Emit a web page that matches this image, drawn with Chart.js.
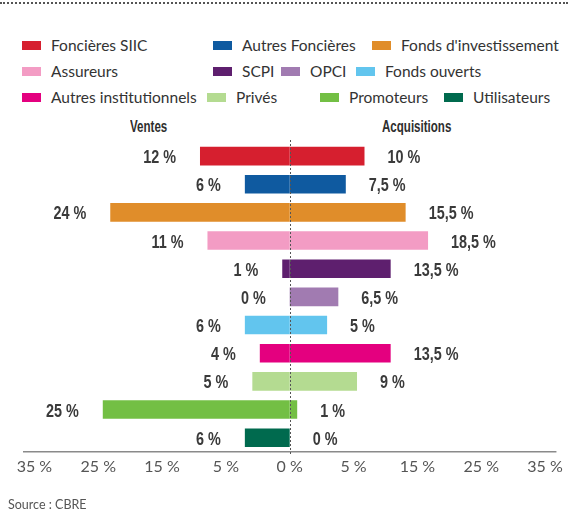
<!DOCTYPE html>
<html>
<head>
<meta charset="utf-8">
<script src="https://cdn.jsdelivr.net/npm/chart.js@4/dist/chart.umd.min.js"></script>
<style>
  body { margin: 0; background: #fff; }
  #wrap { position: relative; width: 568px; height: 514px; overflow: hidden; font-family: Lato, "Noto Sans", sans-serif; color: #333; }
  #chart { position: absolute; left: 0; top: 0; }
  .dots { position: absolute; left: 0; top: 2px; width: 568px; border-top: 2px dotted #555; }
  .leg { position: absolute; font-size: 15.5px; white-space: nowrap; line-height: 18px; }
  .leg i { display: inline-block; width: 19px; height: 9px; margin-right: 10px; vertical-align: 1px; }
  .head { position: absolute; top: 117px; font-family: "Liberation Sans", Arial, sans-serif; font-weight: bold; font-size: 16.5px; color: #2e2e2e; transform: scaleX(0.7); transform-origin: left center; }
  .src { position: absolute; left: 8px; top: 497px; font-size: 12.5px; color: #555; }
</style>
</head>
<body>
<div id="wrap">
  <div class="dots"></div>
  <div id="legend"></div>
  <div class="head" style="left:130px">Ventes</div>
  <div class="head" style="left:382px">Acquisitions</div>
  <canvas id="chart" width="568" height="514"></canvas>
  <div class="src">Source : CBRE</div>
</div>
<script>
// data
var categories = ['Foncières SIIC', 'Autres Foncières', "Fonds d'investissement", 'Assureurs', 'SCPI', 'OPCI',
                  'Fonds ouverts', 'Autres institutionnels', 'Privés', 'Promoteurs', 'Utilisateurs'];
var ventes = [12, 6, 24, 11, 1, 0, 6, 4, 5, 25, 6];
var acquisitions = [10, 7.5, 15.5, 18.5, 13.5, 6.5, 5, 13.5, 9, 1, 0];
var tickLabels = ['35 %', '25 %', '15 %', '5 %', '0 %', '5 %', '15 %', '25 %', '35 %'];

var colors = ['#d61f2f', '#0f5aa0', '#e08d2a', '#f39cc4', '#5e1f6e', '#a17bb1',
              '#62c5ee', '#e4007f', '#b4db91', '#73bf44', '#006a4e'];

// legend layout (rows of category index + left edge)
var legendRows = [
	{ top: 36, items: [[0, 22], [1, 213], [2, 372]] },
	{ top: 62, items: [[3, 22], [4, 213], [5, 281], [6, 356]] },
	{ top: 88, items: [[7, 22], [8, 207], [9, 320], [10, 444]] }
];

var legendEl = document.getElementById('legend');
legendRows.forEach(function(row) {
	row.items.forEach(function(it) {
		var d = document.createElement('div');
		d.className = 'leg';
		d.style.top = row.top + 'px';
		d.style.left = it[1] + 'px';
		d.innerHTML = '<i style="background:' + colors[it[0]] + '"></i>';
		d.appendChild(document.createTextNode(categories[it[0]]));
		legendEl.appendChild(d);
	});
});

function fmt(v) {
	return String(Math.abs(v)).replace('.', ',') + ' %';
}

// condensed text: squeeze horizontally around the anchor point
function narrowText(ctx, txt, x, y, sx) {
	ctx.save();
	ctx.translate(x, y);
	ctx.scale(sx, 1);
	ctx.fillText(txt, 0, 0);
	ctx.restore();
}

var overlay = {
	id: 'overlay',
	beforeDatasetsDraw: function(chart) {
		var ctx = chart.ctx, a = chart.chartArea;
		ctx.save();
		// axis line
		ctx.strokeStyle = '#8a8a8a';
		ctx.lineWidth = 1.5;
		ctx.beginPath();
		ctx.moveTo(a.left - 5, a.bottom);
		ctx.lineTo(a.right + 5, a.bottom);
		ctx.stroke();
		ctx.restore();
	},
	afterDatasetsDraw: function(chart) {
		var ctx = chart.ctx, a = chart.chartArea;
		var x0 = chart.scales.x.getPixelForValue(0);
		ctx.save();
		// dotted zero line
		ctx.strokeStyle = '#555';
		ctx.lineWidth = 1;
		ctx.setLineDash([2, 2]);
		ctx.beginPath();
		ctx.moveTo(Math.round(x0) + 0.5, a.top - 2);
		ctx.lineTo(Math.round(x0) + 0.5, a.bottom + 3);
		ctx.stroke();
		ctx.setLineDash([]);

		// value labels
		ctx.font = 'bold 18px "Liberation Sans", Arial, sans-serif';
		ctx.fillStyle = '#3a3a3a';
		ctx.textBaseline = 'middle';
		chart.data.datasets.forEach(function(ds, di) {
			var meta = chart.getDatasetMeta(di);
			meta.data.forEach(function(bar, i) {
				var v = ds.data[i];
				var end = v === 0 ? x0 : bar.x;
				if (di === 0) {
					ctx.textAlign = 'right';
					narrowText(ctx, fmt(v), end - 24, bar.y + 2, 0.8);
				} else {
					ctx.textAlign = 'left';
					narrowText(ctx, fmt(v), end + 23, bar.y + 2, 0.8);
				}
			});
		});
		ctx.restore();
	}
};

var config = {
	type: 'bar',
	data: {
		labels: categories,
		datasets: [{
			label: 'Ventes',
			data: ventes.map(function(v) { return -v; }),
			backgroundColor: colors,
			barPercentage: 0.66,
			categoryPercentage: 1
		}, {
			label: 'Acquisitions',
			data: acquisitions,
			backgroundColor: colors,
			barPercentage: 0.66,
			categoryPercentage: 1
		}]
	},
	options: {
		indexAxis: 'y',
		responsive: false,
		animation: false,
		layout: { padding: { top: 142, left: 28, right: 8, bottom: 33 } },
		plugins: { legend: { display: false }, tooltip: { enabled: false } },
		scales: {
			x: { type: 'linear', min: -35, max: 35, stacked: true, display: false },
			y: { stacked: true, display: false },
			x2: {
				type: 'linear', position: 'bottom', min: -0.1, max: 8.1,
				grid: { display: false, drawTicks: false },
				border: { display: false },
				afterBuildTicks: function(scale) {
					scale.ticks = tickLabels.map(function(t, i) { return { value: i }; });
				},
				ticks: {
					autoSkip: false, maxRotation: 0, padding: 5,
					color: '#555',
					font: { family: 'Lato', size: 16 },
					callback: function(v) { return tickLabels[v]; }
				}
			}
		}
	},
	plugins: [overlay]
};

var graph = new Chart(document.getElementById('chart'), config);
</script>
</body>
</html>
